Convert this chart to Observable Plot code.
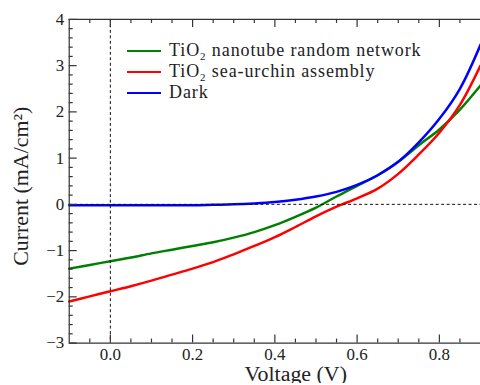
<!DOCTYPE html>
<html>
<head>
<meta charset="utf-8">
<script src="https://cdn.jsdelivr.net/npm/d3@7"></script>
<script src="https://cdn.jsdelivr.net/npm/@observablehq/plot@0.6"></script>
<style>
  html, body { margin: 0; padding: 0; background: #fff; overflow: hidden; }
  #wrap { position: relative; width: 480px; height: 385px; overflow: hidden; }
  #legend { position: absolute; left: 127px; top: 40px; font-family: "Liberation Serif", serif; font-size: 18px; color: #222; letter-spacing: 0.9px; }
  .row { display: flex; align-items: center; height: 21px; white-space: nowrap; }
  .sw { width: 34px; height: 0; border-top: 2px solid; margin-right: 8px; }
  sub { font-size: 11px; vertical-align: -4px; line-height: 0; }
  g[aria-label="axis-title"] text { letter-spacing: 0.9px; }
</style>
</head>
<body>
<div id="wrap">
  <div id="chart"></div>
  <div id="legend"></div>
</div>
<script>
// Data (Voltage in V, current in mA/cm^2)
const voltage   = [-0.1, -0.05, 0, 0.05, 0.1, 0.15, 0.2, 0.25, 0.3, 0.35, 0.4, 0.45, 0.5, 0.55, 0.6, 0.65, 0.7, 0.75, 0.8, 0.85, 0.9];
const nanotube  = [-1.39, -1.31, -1.23, -1.15, -1.06, -0.98, -0.90, -0.82, -0.72, -0.60, -0.45, -0.27, -0.07, 0.17, 0.40, 0.63, 0.92, 1.28, 1.62, 2.05, 2.57];
const seaUrchin = [-2.10, -1.99, -1.88, -1.77, -1.65, -1.52, -1.39, -1.25, -1.08, -0.90, -0.71, -0.49, -0.26, -0.05, 0.13, 0.34, 0.66, 1.08, 1.55, 2.15, 3.00];
const dark      = [-0.02, -0.02, -0.02, -0.02, -0.02, -0.02, -0.02, -0.01, 0.00, 0.02, 0.05, 0.10, 0.17, 0.27, 0.42, 0.63, 0.92, 1.34, 1.85, 2.50, 3.45];

const seriesNames  = ["TiO₂ nanotube random network", "TiO₂ sea-urchin assembly", "Dark"];
const seriesLabels = ["TiO<sub>2</sub> nanotube random network", "TiO<sub>2</sub> sea-urchin assembly", "Dark"];
const seriesColors = ["#008000", "#ff0000", "#0000ff"];

const xMajor = [0, 0.2, 0.4, 0.6, 0.8];
const xMinor = [-0.05, 0.05, 0.1, 0.15, 0.25, 0.3, 0.35, 0.45, 0.5, 0.55, 0.65, 0.7, 0.75, 0.85];
const yMajor = [-3, -2, -1, 0, 1, 2, 3, 4];
const yMinor = d3.range(-3, 4.001, 0.2).map(v => +v.toFixed(1)).filter(v => !Number.isInteger(v));

const xDomain = [-0.1, 0.9], yDomain = [-3, 4];

const rows = [];
[nanotube, seaUrchin, dark].forEach((arr, i) => {
  arr.forEach((c, j) => rows.push({series: seriesNames[i], V: voltage[j], I: c}));
});

const W = 482, H = 385, ML = 69, MR = 0, MT = 19, MB = 41;
// convert pixel tick lengths to data units
const kx = (xDomain[1] - xDomain[0]) / (W - ML - MR);
const ky = (yDomain[1] - yDomain[0]) / (H - MT - MB);
const axisColor = "#333";
const font = "Liberation Serif";
const fmt = d => (d < 0 ? "\u2212" + Math.abs(d) : String(d));

const plot = Plot.plot({
  width: W, height: H,
  marginLeft: ML, marginRight: MR, marginTop: MT, marginBottom: MB,
  style: {fontFamily: "'Liberation Serif', serif", fontSize: "17px", color: "#222", background: "white"},
  x: {domain: xDomain, axis: null},
  y: {domain: yDomain, axis: null},
  color: {domain: seriesNames, range: seriesColors},
  marks: [
    // curves
    Plot.line(rows, {x: "V", y: "I", z: "series", stroke: "series", strokeWidth: 2.5, curve: "catmull-rom"}),
    // dashed reference lines
    Plot.ruleX([0], {stroke: "#111", strokeWidth: 1, strokeDasharray: "3,2.5"}),
    Plot.ruleY([0], {stroke: "#111", strokeWidth: 1, strokeDasharray: "3,2.5"}),
    // frame (top, bottom, left)
    Plot.ruleY(yDomain, {stroke: axisColor, strokeWidth: 1.2}),
    Plot.ruleX([xDomain[0]], {stroke: axisColor, strokeWidth: 1.2}),
    // x ticks bottom & top (inward)
    Plot.ruleX(xMajor, {x: d => d, y1: yDomain[0], y2: yDomain[0] + 8 * ky, stroke: axisColor, strokeWidth: 1.2}),
    Plot.ruleX(xMinor, {x: d => d, y1: yDomain[0], y2: yDomain[0] + 4 * ky, stroke: axisColor, strokeWidth: 1.2}),
    Plot.ruleX(xMajor, {x: d => d, y1: yDomain[1], y2: yDomain[1] - 8 * ky, stroke: axisColor, strokeWidth: 1.2}),
    Plot.ruleX(xMinor, {x: d => d, y1: yDomain[1], y2: yDomain[1] - 4 * ky, stroke: axisColor, strokeWidth: 1.2}),
    // y ticks left (inward)
    Plot.ruleY(yMajor, {y: d => d, x1: xDomain[0], x2: xDomain[0] + 8 * kx, stroke: axisColor, strokeWidth: 1.2}),
    Plot.ruleY(yMinor, {y: d => d, x1: xDomain[0], x2: xDomain[0] + 4 * kx, stroke: axisColor, strokeWidth: 1.2}),
    // tick labels
    Plot.text(xMajor, {x: d => d, y: yDomain[0], text: d => d.toFixed(1), dy: 12, fontSize: 17, fontFamily: font, fill: "#222"}),
    Plot.text(yMajor, {x: xDomain[0], y: d => d, text: fmt, dx: -5, textAnchor: "end", fontSize: 17, fontFamily: font, fill: "#222"}),
    // axis titles
    Plot.text(["Voltage (V)"], {frameAnchor: "bottom", dx: 21, dy: 38, fontSize: 22, fontFamily: font, fill: "#222", ariaLabel: "axis-title"}),
    Plot.text(["Current (mA/cm²)"], {frameAnchor: "left", textAnchor: "middle", dx: -48, dy: 5, rotate: -90, fontSize: 22, fontFamily: font, fill: "#222", ariaLabel: "axis-title"})
  ]
});
document.getElementById("chart").appendChild(plot);

const legend = document.getElementById("legend");
seriesLabels.forEach((lab, i) => {
  const row = document.createElement("div");
  row.className = "row";
  row.innerHTML = `<span class="sw" style="border-color:${seriesColors[i]}"></span><span>${lab}</span>`;
  legend.appendChild(row);
});
</script>
</body>
</html>
